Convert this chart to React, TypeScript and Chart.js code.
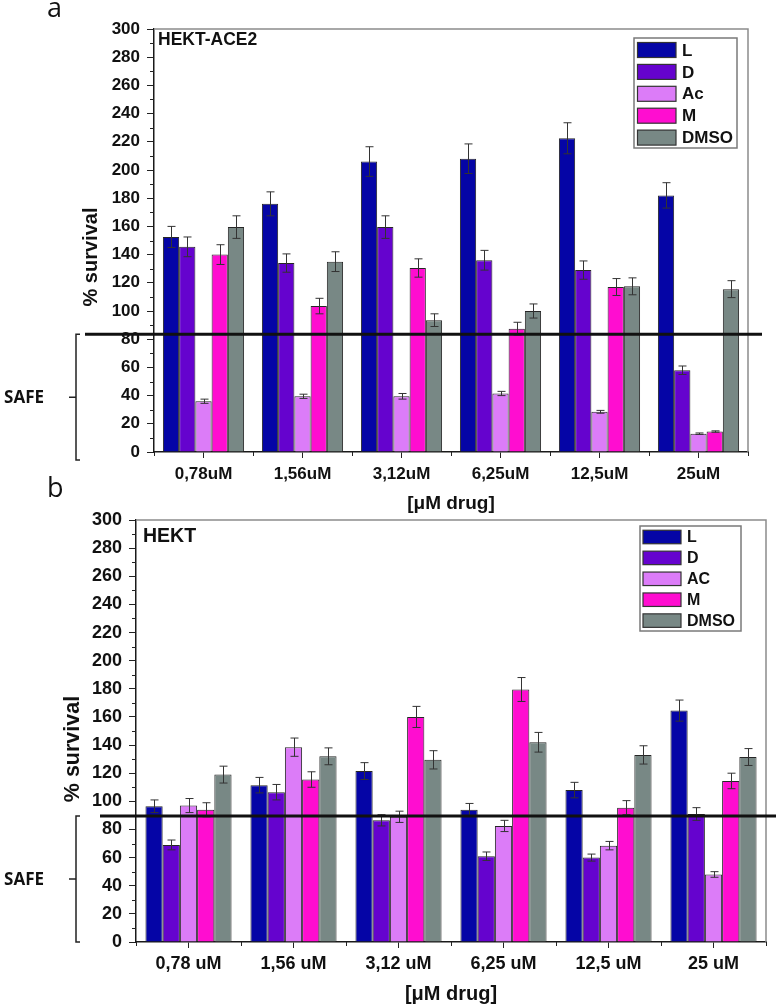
import React, { useEffect, useRef } from 'react';
import { Chart, registerables } from 'chart.js';

Chart.register(...registerables);

// ---------- data ----------
const categoriesA = ['0,78uM', '1,56uM', '3,12uM', '6,25uM', '12,5uM', '25uM'];
const categoriesB = ['0,78 uM', '1,56 uM', '3,12 uM', '6,25 uM', '12,5 uM', '25 uM'];
const seriesNamesA = ['L', 'D', 'Ac', 'M', 'DMSO'];
const seriesNamesB = ['L', 'D', 'AC', 'M', 'DMSO'];
const seriesColors = ['#0505A6', '#6503CE', '#DC7CF8', '#FF0DD0', '#788885'];

// panel a: HEKT-ACE2
const aceL = [152.5, 176, 206, 208, 222.5, 182];
const aceD = [145.5, 134, 159.5, 136, 129, 58];
const aceAc = [36, 39.5, 39.5, 41.5, 28.5, 13];
const aceM = [140, 103.5, 130.5, 87.5, 117, 14.5];
const aceDMSO = [159.5, 135, 93.5, 100, 117.5, 115.5];
const aceErrL = [7.5, 8.5, 10.5, 10.5, 11, 9];
const aceErrD = [7, 6.5, 8, 7, 6.5, 3];
const aceErrAc = [1.5, 1.5, 2, 1.5, 1, 0.5];
const aceErrM = [7, 5.5, 6.5, 4.5, 6, 0.5];
const aceErrDMSO = [8, 7, 4.5, 5, 6, 6];

// panel b: HEKT
const hekL = [96.5, 111.5, 121.5, 94, 108, 164.5];
const hekD = [69, 106.5, 86.5, 61, 60, 91];
const hekAC = [97, 138.5, 89, 82.5, 68.5, 48];
const hekM = [94, 115.5, 160, 179.5, 95.5, 114.5];
const hekDMSO = [119, 132, 129.5, 142, 133, 131.5];
const hekErrL = [4.5, 5.5, 6, 4.5, 5.5, 7.5];
const hekErrD = [3.5, 5.5, 4, 3, 2.5, 4.5];
const hekErrAC = [5, 6.5, 4, 4, 3, 2];
const hekErrM = [5, 5.5, 7.5, 8.5, 5, 5.5];
const hekErrDMSO = [6, 6, 6.5, 7, 6.5, 6];

const yMin = 0;
const yMax = 300;
const yStep = 20;
const yMinorStep = 10;
const thresholdA = 83.5;
const thresholdB = 89.5;

const yTitle = '% survival';
const xTitle = '[\u03BCM drug]';
const safeLabel = 'SAFE';

const SANS = '"Liberation Sans", Arial, sans-serif';

type Geo = {
  top: number;
  height: number;
  pad: { top: number; right: number; bottom: number; left: number };
  yWidth: number;
  xHeight: number;
  tickFont: number;
  tickPad: number;
  xTitleFont: number;
  yTitleFont: number;
  yTitleX: number;
  yTitleY: number;
  threshold: number;
  lineX: [number, number];
  bracketX: number;
  bracketExtra: number;
  letter: string;
  letterY: number;
  panel: string;
  panelX: number;
  panelY: number;
  panelFont: number;
  legend: { x: number; y: number; w: number; h: number; sx: number; sw: number; sh: number; row0: number; gap: number; tx: number; font: number };
};

function makeDecor(g: Geo, errors: number[][]) {
  return {
    id: 'decor',
    afterDatasetsDraw(chart: any) {
      const ctx = chart.ctx;
      const ys = chart.scales.y;
      ctx.save();
      ctx.strokeStyle = '#333';
      ctx.lineWidth = 1;
      chart.data.datasets.forEach((ds: any, i: number) => {
        const meta = chart.getDatasetMeta(i);
        meta.data.forEach((bar: any, j: number) => {
          const v = ds.data[j];
          const e = errors[i][j];
          const x = Math.round(bar.x) + 0.5;
          const y1 = ys.getPixelForValue(v + e);
          const y2 = ys.getPixelForValue(v - e);
          ctx.beginPath();
          ctx.moveTo(x, y1);
          ctx.lineTo(x, y2);
          ctx.moveTo(x - 4, y1);
          ctx.lineTo(x + 4, y1);
          ctx.moveTo(x - 4, y2);
          ctx.lineTo(x + 4, y2);
          ctx.stroke();
        });
      });
      ctx.restore();
    },
    afterDraw(chart: any) {
      const ctx = chart.ctx;
      const { left, right, top, bottom } = chart.chartArea;
      const ys = chart.scales.y;
      ctx.save();
      // frame top / right
      ctx.strokeStyle = '#8c8c8c';
      ctx.lineWidth = 1.5;
      ctx.beginPath();
      ctx.moveTo(left, top);
      ctx.lineTo(right, top);
      ctx.lineTo(right, bottom);
      ctx.stroke();
      // minor y ticks
      ctx.strokeStyle = '#222';
      ctx.lineWidth = 1;
      ctx.beginPath();
      for (let v = yMin + yMinorStep; v < yMax; v += yStep) {
        const y = Math.round(ys.getPixelForValue(v)) + 0.5;
        ctx.moveTo(left - 4, y);
        ctx.lineTo(left, y);
      }
      // minor x ticks at category boundaries
      const n = chart.data.labels.length;
      const cw = (right - left) / n;
      for (let k = 0; k <= n; k++) {
        const x = Math.round(left + k * cw) + 0.5;
        ctx.moveTo(x, bottom);
        ctx.lineTo(x, bottom + 4);
      }
      ctx.stroke();
      // threshold line
      const ty = ys.getPixelForValue(g.threshold);
      ctx.strokeStyle = '#111';
      ctx.lineWidth = 3;
      ctx.beginPath();
      ctx.moveTo(g.lineX[0], ty);
      ctx.lineTo(g.lineX[1], ty);
      ctx.stroke();
      // bracket
      const bb = bottom + g.bracketExtra;
      const mid = (ty + bb) / 2;
      ctx.strokeStyle = '#222';
      ctx.lineWidth = 1.5;
      ctx.beginPath();
      ctx.moveTo(g.bracketX + 4, ty);
      ctx.lineTo(g.bracketX, ty);
      ctx.lineTo(g.bracketX, bb);
      ctx.lineTo(g.bracketX + 4, bb);
      ctx.moveTo(g.bracketX - 7, mid);
      ctx.lineTo(g.bracketX, mid);
      ctx.stroke();
      ctx.fillStyle = '#111';
      ctx.font = 'bold 17px "Open Sans", sans-serif';
      ctx.textAlign = 'right';
      ctx.textBaseline = 'middle';
      ctx.fillText(safeLabel, 44, mid + 1);
      // y title
      ctx.save();
      ctx.translate(g.yTitleX, g.yTitleY);
      ctx.rotate(-Math.PI / 2);
      ctx.font = `bold ${g.yTitleFont}px ${SANS}`;
      ctx.textAlign = 'center';
      ctx.textBaseline = 'middle';
      ctx.fillText(yTitle, 0, 0);
      ctx.restore();
      // panel letter
      ctx.font = '27px "Open Sans", sans-serif';
      ctx.textAlign = 'left';
      ctx.textBaseline = 'alphabetic';
      ctx.fillText(g.letter, 47, g.letterY);
      // panel name
      ctx.font = `bold ${g.panelFont}px ${SANS}`;
      ctx.textBaseline = 'middle';
      ctx.fillText(g.panel, g.panelX, g.panelY);
      // legend
      const lg = g.legend;
      ctx.strokeStyle = '#7a7a7a';
      ctx.lineWidth = 1.5;
      ctx.strokeRect(lg.x, lg.y, lg.w, lg.h);
      chart.data.datasets.forEach((ds: any, i: number) => {
        const cy = lg.row0 + i * lg.gap;
        ctx.fillStyle = ds.backgroundColor;
        ctx.fillRect(lg.sx, cy - lg.sh / 2, lg.sw, lg.sh);
        ctx.strokeStyle = '#333';
        ctx.lineWidth = 1.2;
        ctx.strokeRect(lg.sx, cy - lg.sh / 2, lg.sw, lg.sh);
        ctx.fillStyle = '#111';
        ctx.font = `bold ${lg.font}px ${SANS}`;
        ctx.textAlign = 'left';
        ctx.textBaseline = 'middle';
        ctx.fillText(ds.label, lg.tx, cy + 1);
      });
      ctx.restore();
    },
  };
}

function buildConfig(g: Geo, labels: string[], names: string[], values: number[][], errors: number[][]): any {
  return {
    type: 'bar',
    data: {
      labels,
      datasets: names.map((name, i) => ({
        label: name,
        data: values[i],
        backgroundColor: seriesColors[i],
        borderColor: '#262626',
        borderWidth: 1,
        categoryPercentage: 0.82,
        barPercentage: 1,
      })),
    },
    options: {
      responsive: false,
      animation: false,
      events: [],
      layout: { padding: g.pad },
      plugins: { legend: { display: false }, tooltip: { enabled: false }, title: { display: false } },
      scales: {
        x: {
          grid: { display: true, drawOnChartArea: false, offset: false, tickLength: 6, color: '#222', tickWidth: 1 },
          border: { display: true, color: '#1a1a1a', width: 1.5 },
          ticks: { color: '#111', font: { family: SANS, size: g.tickFont, weight: 'bold' }, padding: g.tickPad, maxRotation: 0 },
          title: { display: true, text: xTitle, color: '#111', font: { family: SANS, size: g.xTitleFont, weight: 'bold' }, padding: 0 },
          afterFit: (s: any) => { s.height = g.xHeight; },
        },
        y: {
          min: yMin,
          max: yMax,
          grid: { display: true, drawOnChartArea: false, tickLength: 7, color: '#222', tickWidth: 1 },
          border: { display: true, color: '#1a1a1a', width: 1.5 },
          ticks: { stepSize: yStep, color: '#111', font: { family: SANS, size: g.tickFont, weight: 'bold' }, padding: 7 },
          title: { display: false },
          afterFit: (s: any) => { s.width = g.yWidth; },
        },
      },
    },
    plugins: [makeDecor(g, errors)],
  };
}

const geoA: Geo = {
  top: 0,
  height: 515,
  pad: { top: 29, right: 28, bottom: 0, left: 0 },
  yWidth: 154,
  xHeight: 63,
  tickFont: 17,
  tickPad: 6,
  xTitleFont: 19,
  yTitleFont: 20,
  yTitleX: 91,
  yTitleY: 257,
  threshold: thresholdA,
  lineX: [85, 762],
  bracketX: 76,
  bracketExtra: 8,
  letter: 'a',
  letterY: 17,
  panel: 'HEKT-ACE2',
  panelX: 158,
  panelY: 40,
  panelFont: 17.5,
  legend: { x: 634, y: 38, w: 103, h: 110, sx: 637.5, sw: 38.5, sh: 15, row0: 50, gap: 21.9, tx: 682, font: 17 },
};

const geoB: Geo = {
  top: 465,
  height: 542,
  pad: { top: 55, right: 10, bottom: 1, left: 0 },
  yWidth: 136,
  xHeight: 64,
  tickFont: 18,
  tickPad: 5.5,
  xTitleFont: 20,
  yTitleFont: 21.5,
  yTitleX: 73,
  yTitleY: 284,
  threshold: thresholdB,
  lineX: [100, 776],
  bracketX: 76,
  bracketExtra: 0,
  letter: 'b',
  letterY: 32,
  panel: 'HEKT',
  panelX: 143,
  panelY: 72,
  panelFont: 19.5,
  legend: { x: 640, y: 61, w: 101, h: 105, sx: 643, sw: 38, sh: 13.5, row0: 72, gap: 20.9, tx: 687, font: 16 },
};

function Panel(props: { g: Geo; labels: string[]; names: string[]; values: number[][]; errors: number[][] }) {
  const ref = useRef<HTMLCanvasElement>(null);
  useEffect(() => {
    if (!ref.current) return;
    const chart = new Chart(ref.current, buildConfig(props.g, props.labels, props.names, props.values, props.errors));
    return () => chart.destroy();
  }, []);
  return (
    <div style={{ position: 'absolute', left: 0, top: props.g.top, width: 776, height: props.g.height }}>
      <canvas ref={ref} width={776} height={props.g.height} style={{ display: 'block' }} />
    </div>
  );
}

export default function App() {
  return (
    <div style={{ position: 'absolute', left: 0, top: 0, width: 776, height: 1007, background: '#fff', overflow: 'hidden' }}>
      <Panel
        g={geoA}
        labels={categoriesA}
        names={seriesNamesA}
        values={[aceL, aceD, aceAc, aceM, aceDMSO]}
        errors={[aceErrL, aceErrD, aceErrAc, aceErrM, aceErrDMSO]}
      />
      <Panel
        g={geoB}
        labels={categoriesB}
        names={seriesNamesB}
        values={[hekL, hekD, hekAC, hekM, hekDMSO]}
        errors={[hekErrL, hekErrD, hekErrAC, hekErrM, hekErrDMSO]}
      />
    </div>
  );
}
